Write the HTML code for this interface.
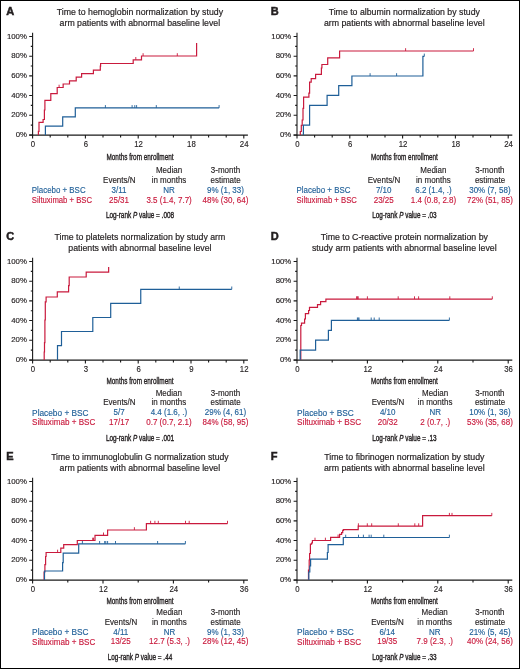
<!DOCTYPE html>
<html><head><meta charset="utf-8"><style>
html,body{margin:0;padding:0;background:#fff;}
body{width:520px;height:669px;overflow:hidden;}
svg{display:block;will-change:transform;font-family:"Liberation Sans",sans-serif;fill:#231f20;}
.c{stroke:#231f20;stroke-width:0.4px;}
.t{stroke-width:0.2px;}
</style></head><body>
<svg width="520" height="669" viewBox="0 0 520 669">
<rect x="0.5" y="0.5" width="519" height="668" fill="#fff" stroke="#000" stroke-width="1"/>
<text x="6.3" y="14.7" stroke="#231f20" stroke-width="0.5" font-size="11" font-weight="bold">A</text>
<text x="139.9" y="14.8" stroke="#231f20" stroke-width="0.2" font-size="9.5" text-anchor="middle" textLength="166.3" lengthAdjust="spacingAndGlyphs">Time to hemoglobin normalization by study</text>
<text x="139.9" y="25.5" stroke="#231f20" stroke-width="0.2" font-size="9.5" text-anchor="middle" textLength="160.6" lengthAdjust="spacingAndGlyphs">arm patients with abnormal baseline level</text>
<g fill="none" stroke="#1a1a1a" stroke-width="1.1"><path d="M32.6 32.7V135.55" /><path d="M29.2 135.05H247.9" stroke-width="1.3" /><path d="M29.2 134.95H32.6M30.8 125.1H32.6M29.2 115.26H32.6M30.8 105.41H32.6M29.2 95.57H32.6M30.8 85.72H32.6M29.2 75.88H32.6M30.8 66.03H32.6M29.2 56.19H32.6M30.8 46.34H32.6M29.2 36.5H32.6M32.6 135.05V138.45M50.2 135.05V137.45M67.8 135.05V137.45M85.4 135.05V138.45M103 135.05V137.45M120.6 135.05V137.45M138.2 135.05V138.45M155.8 135.05V137.45M173.4 135.05V137.45M191 135.05V138.45M208.6 135.05V137.45M226.2 135.05V137.45M243.8 135.05V138.45" /></g>
<text x="26.9" y="136.95" stroke="#231f20" stroke-width="0.15" font-size="7.8" text-anchor="end" textLength="11.27" lengthAdjust="spacingAndGlyphs">0%</text>
<text x="26.9" y="117.26" stroke="#231f20" stroke-width="0.15" font-size="7.8" text-anchor="end" textLength="15.61" lengthAdjust="spacingAndGlyphs">20%</text>
<text x="26.9" y="97.57" stroke="#231f20" stroke-width="0.15" font-size="7.8" text-anchor="end" textLength="15.61" lengthAdjust="spacingAndGlyphs">40%</text>
<text x="26.9" y="77.88" stroke="#231f20" stroke-width="0.15" font-size="7.8" text-anchor="end" textLength="15.61" lengthAdjust="spacingAndGlyphs">60%</text>
<text x="26.9" y="58.19" stroke="#231f20" stroke-width="0.15" font-size="7.8" text-anchor="end" textLength="15.61" lengthAdjust="spacingAndGlyphs">80%</text>
<text x="26.9" y="38.5" stroke="#231f20" stroke-width="0.15" font-size="7.8" text-anchor="end" textLength="19.95" lengthAdjust="spacingAndGlyphs">100%</text>
<text x="33" y="146.6" stroke="#231f20" stroke-width="0.15" font-size="8.8" text-anchor="middle" textLength="4.34" lengthAdjust="spacingAndGlyphs">0</text>
<text x="85.8" y="146.6" stroke="#231f20" stroke-width="0.15" font-size="8.8" text-anchor="middle" textLength="4.34" lengthAdjust="spacingAndGlyphs">6</text>
<text x="138.6" y="146.6" stroke="#231f20" stroke-width="0.15" font-size="8.8" text-anchor="middle" textLength="8.68" lengthAdjust="spacingAndGlyphs">12</text>
<text x="191.4" y="146.6" stroke="#231f20" stroke-width="0.15" font-size="8.8" text-anchor="middle" textLength="8.68" lengthAdjust="spacingAndGlyphs">18</text>
<text x="244.2" y="146.6" stroke="#231f20" stroke-width="0.15" font-size="8.8" text-anchor="middle" textLength="8.68" lengthAdjust="spacingAndGlyphs">24</text>
<text x="140" y="160.3" font-size="9.9" text-anchor="middle" textLength="67" lengthAdjust="spacingAndGlyphs" class="c">Months from enrollment</text>
<path d="M38.4 134.95V131.4H39V122.3H43.1V119.5H44.4V110H44.9V100.3H50.8V93.7H57.2V87.5H63.15V84H69.5V80.8H76.2V77.1H81.6V73.6H93.4V70.2H100.3V66.2H100.6V63.5H133.2V59.8H141.5V56H196.6V42.9H196.6" fill="none" stroke="#c91a3d" stroke-width="1.2" />
<path d="M59.1 87.5V84.7M135.8 59.8V57M143.1 56V53.2M177.3 56V53.2" fill="none" stroke="#c91a3d" stroke-width="0.9" />
<path d="M45.4 134.95V126.1H62.7V116.9H75.3V107.9H219.1" fill="none" stroke="#1f5f98" stroke-width="1.2" />
<path d="M105.4 107.9V105.1M132.1 107.9V105.1M134.8 107.9V105.1M136.6 107.9V105.1M156.3 107.9V105.1M219.1 107.9V105.1" fill="none" stroke="#1f5f98" stroke-width="0.9" />
<text x="169" y="172.9" stroke="#231f20" stroke-width="0.15" font-size="8.8" text-anchor="middle" textLength="26.24" lengthAdjust="spacingAndGlyphs">Median</text>
<text x="225.5" y="172.9" stroke="#231f20" stroke-width="0.15" font-size="8.8" text-anchor="middle" textLength="29.35" lengthAdjust="spacingAndGlyphs">3-month</text>
<text x="119.3" y="182.83" stroke="#231f20" stroke-width="0.15" font-size="8.8" text-anchor="middle" textLength="32.46" lengthAdjust="spacingAndGlyphs">Events/N</text>
<text x="169" y="182.83" stroke="#231f20" stroke-width="0.15" font-size="8.8" text-anchor="middle" textLength="34.68" lengthAdjust="spacingAndGlyphs">in months</text>
<text x="225.6" y="182.83" stroke="#231f20" stroke-width="0.15" font-size="8.8" text-anchor="middle" textLength="30.23" lengthAdjust="spacingAndGlyphs">estimate</text>
<text x="31.8" y="193.26" stroke="#1f5f98" stroke-width="0.15" font-size="8.8" fill="#1f5f98" textLength="53.8" lengthAdjust="spacingAndGlyphs">Placebo + BSC</text>
<text x="119" y="192.76" stroke="#1f5f98" stroke-width="0.15" font-size="8.8" text-anchor="middle" fill="#1f5f98" textLength="14.98" lengthAdjust="spacingAndGlyphs">3/11</text>
<text x="169.1" y="192.76" stroke="#1f5f98" stroke-width="0.15" font-size="8.8" text-anchor="middle" fill="#1f5f98" textLength="11.55" lengthAdjust="spacingAndGlyphs">NR</text>
<text x="225.5" y="192.76" stroke="#1f5f98" stroke-width="0.15" font-size="8.8" text-anchor="middle" fill="#1f5f98" textLength="36.91" lengthAdjust="spacingAndGlyphs">9% (1, 33)</text>
<text x="31.8" y="202.89" stroke="#c91a3d" stroke-width="0.15" font-size="8.8" fill="#c91a3d" textLength="60.3" lengthAdjust="spacingAndGlyphs">Siltuximab + BSC</text>
<text x="119" y="202.69" stroke="#c91a3d" stroke-width="0.15" font-size="8.8" text-anchor="middle" fill="#c91a3d" textLength="20.02" lengthAdjust="spacingAndGlyphs">25/31</text>
<text x="169.1" y="202.69" stroke="#c91a3d" stroke-width="0.15" font-size="8.8" text-anchor="middle" fill="#c91a3d" textLength="45.36" lengthAdjust="spacingAndGlyphs">3.5 (1.4, 7.7)</text>
<text x="225.5" y="202.69" stroke="#c91a3d" stroke-width="0.15" font-size="8.8" text-anchor="middle" fill="#c91a3d" textLength="45.8" lengthAdjust="spacingAndGlyphs">48% (30, 64)</text>
<text x="140" y="217.6" font-size="9.2" text-anchor="middle" class="c" textLength="68.2" lengthAdjust="spacingAndGlyphs">Log-rank <tspan font-style="italic">P</tspan> value = .008</text>
<text x="270.7" y="14.7" stroke="#231f20" stroke-width="0.5" font-size="11" font-weight="bold">B</text>
<text x="404.3" y="14.8" stroke="#231f20" stroke-width="0.2" font-size="9.5" text-anchor="middle" textLength="151.3" lengthAdjust="spacingAndGlyphs">Time to albumin normalization by study</text>
<text x="404.3" y="25.5" stroke="#231f20" stroke-width="0.2" font-size="9.5" text-anchor="middle" textLength="160.6" lengthAdjust="spacingAndGlyphs">arm patients with abnormal baseline level</text>
<g fill="none" stroke="#1a1a1a" stroke-width="1.1"><path d="M297 32.7V135.55" /><path d="M293.6 135.05H512.3" stroke-width="1.3" /><path d="M293.6 134.95H297M295.2 125.1H297M293.6 115.26H297M295.2 105.41H297M293.6 95.57H297M295.2 85.72H297M293.6 75.88H297M295.2 66.03H297M293.6 56.19H297M295.2 46.34H297M293.6 36.5H297M297 135.05V138.45M314.6 135.05V137.45M332.2 135.05V137.45M349.8 135.05V138.45M367.4 135.05V137.45M385 135.05V137.45M402.6 135.05V138.45M420.2 135.05V137.45M437.8 135.05V137.45M455.4 135.05V138.45M473 135.05V137.45M490.6 135.05V137.45M508.2 135.05V138.45" /></g>
<text x="291.3" y="136.95" stroke="#231f20" stroke-width="0.15" font-size="7.8" text-anchor="end" textLength="11.27" lengthAdjust="spacingAndGlyphs">0%</text>
<text x="291.3" y="117.26" stroke="#231f20" stroke-width="0.15" font-size="7.8" text-anchor="end" textLength="15.61" lengthAdjust="spacingAndGlyphs">20%</text>
<text x="291.3" y="97.57" stroke="#231f20" stroke-width="0.15" font-size="7.8" text-anchor="end" textLength="15.61" lengthAdjust="spacingAndGlyphs">40%</text>
<text x="291.3" y="77.88" stroke="#231f20" stroke-width="0.15" font-size="7.8" text-anchor="end" textLength="15.61" lengthAdjust="spacingAndGlyphs">60%</text>
<text x="291.3" y="58.19" stroke="#231f20" stroke-width="0.15" font-size="7.8" text-anchor="end" textLength="15.61" lengthAdjust="spacingAndGlyphs">80%</text>
<text x="291.3" y="38.5" stroke="#231f20" stroke-width="0.15" font-size="7.8" text-anchor="end" textLength="19.95" lengthAdjust="spacingAndGlyphs">100%</text>
<text x="297.4" y="146.6" stroke="#231f20" stroke-width="0.15" font-size="8.8" text-anchor="middle" textLength="4.34" lengthAdjust="spacingAndGlyphs">0</text>
<text x="350.2" y="146.6" stroke="#231f20" stroke-width="0.15" font-size="8.8" text-anchor="middle" textLength="4.34" lengthAdjust="spacingAndGlyphs">6</text>
<text x="403" y="146.6" stroke="#231f20" stroke-width="0.15" font-size="8.8" text-anchor="middle" textLength="8.68" lengthAdjust="spacingAndGlyphs">12</text>
<text x="455.8" y="146.6" stroke="#231f20" stroke-width="0.15" font-size="8.8" text-anchor="middle" textLength="8.68" lengthAdjust="spacingAndGlyphs">18</text>
<text x="508.6" y="146.6" stroke="#231f20" stroke-width="0.15" font-size="8.8" text-anchor="middle" textLength="8.68" lengthAdjust="spacingAndGlyphs">24</text>
<text x="404.4" y="160.3" font-size="9.9" text-anchor="middle" textLength="67" lengthAdjust="spacingAndGlyphs" class="c">Months from enrollment</text>
<path d="M300.3 134.95V131.5H301.3V125.4H302.2V120H303V108.3H303.6V97.1H308.9V93.2H309.6V82.2H311.2V78.6H315.6V74.4H321.4V68H321.9V64.5H327.7V57.8H339.6V51H473.5" fill="none" stroke="#c91a3d" stroke-width="1.2" />
<path d="M405.6 51V48.2M473.5 51V48.2" fill="none" stroke="#c91a3d" stroke-width="0.9" />
<path d="M303.4 134.95V125.2H309.6V105.3H327.1V95.4H338.7V85.7H351.9V76H422.9V56.4H424.3" fill="none" stroke="#1f5f98" stroke-width="1.2" />
<path d="M370.1 76V73.2M396.6 76V73.2M424.3 56.4V53.6" fill="none" stroke="#1f5f98" stroke-width="0.9" />
<text x="433.4" y="172.9" stroke="#231f20" stroke-width="0.15" font-size="8.8" text-anchor="middle" textLength="26.24" lengthAdjust="spacingAndGlyphs">Median</text>
<text x="489.9" y="172.9" stroke="#231f20" stroke-width="0.15" font-size="8.8" text-anchor="middle" textLength="29.35" lengthAdjust="spacingAndGlyphs">3-month</text>
<text x="384" y="182.83" stroke="#231f20" stroke-width="0.15" font-size="8.8" text-anchor="middle" textLength="32.46" lengthAdjust="spacingAndGlyphs">Events/N</text>
<text x="433.4" y="182.83" stroke="#231f20" stroke-width="0.15" font-size="8.8" text-anchor="middle" textLength="34.68" lengthAdjust="spacingAndGlyphs">in months</text>
<text x="490" y="182.83" stroke="#231f20" stroke-width="0.15" font-size="8.8" text-anchor="middle" textLength="30.23" lengthAdjust="spacingAndGlyphs">estimate</text>
<text x="296.6" y="193.26" stroke="#1f5f98" stroke-width="0.15" font-size="8.8" fill="#1f5f98" textLength="53.8" lengthAdjust="spacingAndGlyphs">Placebo + BSC</text>
<text x="383.7" y="192.76" stroke="#1f5f98" stroke-width="0.15" font-size="8.8" text-anchor="middle" fill="#1f5f98" textLength="15.57" lengthAdjust="spacingAndGlyphs">7/10</text>
<text x="433.5" y="192.76" stroke="#1f5f98" stroke-width="0.15" font-size="8.8" text-anchor="middle" fill="#1f5f98" textLength="36.46" lengthAdjust="spacingAndGlyphs">6.2 (1.4, .)</text>
<text x="489.9" y="192.76" stroke="#1f5f98" stroke-width="0.15" font-size="8.8" text-anchor="middle" fill="#1f5f98" textLength="41.36" lengthAdjust="spacingAndGlyphs">30% (7, 58)</text>
<text x="296.6" y="202.89" stroke="#c91a3d" stroke-width="0.15" font-size="8.8" fill="#c91a3d" textLength="60.3" lengthAdjust="spacingAndGlyphs">Siltuximab + BSC</text>
<text x="383.7" y="202.69" stroke="#c91a3d" stroke-width="0.15" font-size="8.8" text-anchor="middle" fill="#c91a3d" textLength="20.02" lengthAdjust="spacingAndGlyphs">23/25</text>
<text x="433.5" y="202.69" stroke="#c91a3d" stroke-width="0.15" font-size="8.8" text-anchor="middle" fill="#c91a3d" textLength="45.36" lengthAdjust="spacingAndGlyphs">1.4 (0.8, 2.8)</text>
<text x="489.9" y="202.69" stroke="#c91a3d" stroke-width="0.15" font-size="8.8" text-anchor="middle" fill="#c91a3d" textLength="45.8" lengthAdjust="spacingAndGlyphs">72% (51, 85)</text>
<text x="404.4" y="217.6" font-size="9.2" text-anchor="middle" class="c" textLength="64.5" lengthAdjust="spacingAndGlyphs">Log-rank <tspan font-style="italic">P</tspan> value = .03</text>
<text x="6.3" y="239.7" stroke="#231f20" stroke-width="0.5" font-size="11" font-weight="bold">C</text>
<text x="139.9" y="239.8" stroke="#231f20" stroke-width="0.2" font-size="9.5" text-anchor="middle" textLength="170.8" lengthAdjust="spacingAndGlyphs">Time to platelets normalization by study arm</text>
<text x="139.9" y="250.5" stroke="#231f20" stroke-width="0.2" font-size="9.5" text-anchor="middle" textLength="143.2" lengthAdjust="spacingAndGlyphs">patients with abnormal baseline level</text>
<g fill="none" stroke="#1a1a1a" stroke-width="1.1"><path d="M32.6 257.7V360.55" /><path d="M29.2 360.05H247.9" stroke-width="1.3" /><path d="M29.2 359.95H32.6M30.8 350.11H32.6M29.2 340.26H32.6M30.8 330.41H32.6M29.2 320.57H32.6M30.8 310.73H32.6M29.2 300.88H32.6M30.8 291.03H32.6M29.2 281.19H32.6M30.8 271.35H32.6M29.2 261.5H32.6M32.6 360.05V363.45M50.2 360.05V362.45M67.8 360.05V362.45M85.4 360.05V363.45M103 360.05V362.45M120.6 360.05V362.45M138.2 360.05V363.45M155.8 360.05V362.45M173.4 360.05V362.45M191 360.05V363.45M208.6 360.05V362.45M226.2 360.05V362.45M243.8 360.05V363.45" /></g>
<text x="26.9" y="361.95" stroke="#231f20" stroke-width="0.15" font-size="7.8" text-anchor="end" textLength="11.27" lengthAdjust="spacingAndGlyphs">0%</text>
<text x="26.9" y="342.26" stroke="#231f20" stroke-width="0.15" font-size="7.8" text-anchor="end" textLength="15.61" lengthAdjust="spacingAndGlyphs">20%</text>
<text x="26.9" y="322.57" stroke="#231f20" stroke-width="0.15" font-size="7.8" text-anchor="end" textLength="15.61" lengthAdjust="spacingAndGlyphs">40%</text>
<text x="26.9" y="302.88" stroke="#231f20" stroke-width="0.15" font-size="7.8" text-anchor="end" textLength="15.61" lengthAdjust="spacingAndGlyphs">60%</text>
<text x="26.9" y="283.19" stroke="#231f20" stroke-width="0.15" font-size="7.8" text-anchor="end" textLength="15.61" lengthAdjust="spacingAndGlyphs">80%</text>
<text x="26.9" y="263.5" stroke="#231f20" stroke-width="0.15" font-size="7.8" text-anchor="end" textLength="19.95" lengthAdjust="spacingAndGlyphs">100%</text>
<text x="33" y="371.6" stroke="#231f20" stroke-width="0.15" font-size="8.8" text-anchor="middle" textLength="4.34" lengthAdjust="spacingAndGlyphs">0</text>
<text x="85.8" y="371.6" stroke="#231f20" stroke-width="0.15" font-size="8.8" text-anchor="middle" textLength="4.34" lengthAdjust="spacingAndGlyphs">3</text>
<text x="138.6" y="371.6" stroke="#231f20" stroke-width="0.15" font-size="8.8" text-anchor="middle" textLength="4.34" lengthAdjust="spacingAndGlyphs">6</text>
<text x="191.4" y="371.6" stroke="#231f20" stroke-width="0.15" font-size="8.8" text-anchor="middle" textLength="4.34" lengthAdjust="spacingAndGlyphs">9</text>
<text x="244.2" y="371.6" stroke="#231f20" stroke-width="0.15" font-size="8.8" text-anchor="middle" textLength="8.68" lengthAdjust="spacingAndGlyphs">12</text>
<text x="140" y="384.3" font-size="9.9" text-anchor="middle" textLength="67" lengthAdjust="spacingAndGlyphs" class="c">Months from enrollment</text>
<path d="M44.2 359.95V352H44.5V342.7H44.9V320H45.3V301.8H46.1V297H57.3V291.8H68.6V285.7H69.2V277H86.2V272.1H108.65V267H108.65" fill="none" stroke="#c91a3d" stroke-width="1.2" />
<path d="M57.5 359.95V345.6H61.5V331.5H92.8V317.5H110.7V303.4H140.75V289.3H231.75" fill="none" stroke="#1f5f98" stroke-width="1.2" />
<path d="M179.25 289.3V286.5M231.75 289.3V286.5" fill="none" stroke="#1f5f98" stroke-width="0.9" />
<text x="168.8" y="395.7" stroke="#231f20" stroke-width="0.15" font-size="8.8" text-anchor="middle" textLength="26.24" lengthAdjust="spacingAndGlyphs">Median</text>
<text x="225.5" y="395.7" stroke="#231f20" stroke-width="0.15" font-size="8.8" text-anchor="middle" textLength="29.35" lengthAdjust="spacingAndGlyphs">3-month</text>
<text x="119.4" y="405.42" stroke="#231f20" stroke-width="0.15" font-size="8.8" text-anchor="middle" textLength="32.46" lengthAdjust="spacingAndGlyphs">Events/N</text>
<text x="168.8" y="405.42" stroke="#231f20" stroke-width="0.15" font-size="8.8" text-anchor="middle" textLength="34.68" lengthAdjust="spacingAndGlyphs">in months</text>
<text x="225.6" y="405.42" stroke="#231f20" stroke-width="0.15" font-size="8.8" text-anchor="middle" textLength="30.23" lengthAdjust="spacingAndGlyphs">estimate</text>
<text x="32.1" y="415.64" stroke="#1f5f98" stroke-width="0.15" font-size="9.152000000000001" fill="#1f5f98" textLength="56.5" lengthAdjust="spacingAndGlyphs">Placebo + BSC</text>
<text x="119.1" y="415.14" stroke="#1f5f98" stroke-width="0.15" font-size="8.8" text-anchor="middle" fill="#1f5f98" textLength="11.12" lengthAdjust="spacingAndGlyphs">5/7</text>
<text x="168.9" y="415.14" stroke="#1f5f98" stroke-width="0.15" font-size="8.8" text-anchor="middle" fill="#1f5f98" textLength="36.46" lengthAdjust="spacingAndGlyphs">4.4 (1.6, .)</text>
<text x="225.5" y="415.14" stroke="#1f5f98" stroke-width="0.15" font-size="8.8" text-anchor="middle" fill="#1f5f98" textLength="41.36" lengthAdjust="spacingAndGlyphs">29% (4, 61)</text>
<text x="32.1" y="425.06" stroke="#c91a3d" stroke-width="0.15" font-size="9.152000000000001" fill="#c91a3d" textLength="63.2" lengthAdjust="spacingAndGlyphs">Siltuximab + BSC</text>
<text x="119.1" y="424.86" stroke="#c91a3d" stroke-width="0.15" font-size="8.8" text-anchor="middle" fill="#c91a3d" textLength="20.02" lengthAdjust="spacingAndGlyphs">17/17</text>
<text x="168.9" y="424.86" stroke="#c91a3d" stroke-width="0.15" font-size="8.8" text-anchor="middle" fill="#c91a3d" textLength="45.36" lengthAdjust="spacingAndGlyphs">0.7 (0.7, 2.1)</text>
<text x="225.5" y="424.86" stroke="#c91a3d" stroke-width="0.15" font-size="8.8" text-anchor="middle" fill="#c91a3d" textLength="45.8" lengthAdjust="spacingAndGlyphs">84% (58, 95)</text>
<text x="140" y="440.6" font-size="9.2" text-anchor="middle" class="c" textLength="68.2" lengthAdjust="spacingAndGlyphs">Log-rank <tspan font-style="italic">P</tspan> value = .001</text>
<text x="270.7" y="239.7" stroke="#231f20" stroke-width="0.5" font-size="11" font-weight="bold">D</text>
<text x="404.3" y="239.8" stroke="#231f20" stroke-width="0.2" font-size="9.5" text-anchor="middle" textLength="167.3" lengthAdjust="spacingAndGlyphs">Time to C-reactive protein normalization by</text>
<text x="404.3" y="250.5" stroke="#231f20" stroke-width="0.2" font-size="9.5" text-anchor="middle" textLength="184.7" lengthAdjust="spacingAndGlyphs">study arm patients with abnormal baseline level</text>
<g fill="none" stroke="#1a1a1a" stroke-width="1.1"><path d="M297 257.7V360.55" /><path d="M293.6 360.05H512.3" stroke-width="1.3" /><path d="M293.6 359.95H297M295.2 350.11H297M293.6 340.26H297M295.2 330.41H297M293.6 320.57H297M295.2 310.73H297M293.6 300.88H297M295.2 291.03H297M293.6 281.19H297M295.2 271.35H297M293.6 261.5H297M297 360.05V363.45M332.2 360.05V362.45M367.4 360.05V363.45M402.6 360.05V362.45M437.8 360.05V363.45M473 360.05V362.45M508.2 360.05V363.45" /></g>
<text x="291.3" y="361.95" stroke="#231f20" stroke-width="0.15" font-size="7.8" text-anchor="end" textLength="11.27" lengthAdjust="spacingAndGlyphs">0%</text>
<text x="291.3" y="342.26" stroke="#231f20" stroke-width="0.15" font-size="7.8" text-anchor="end" textLength="15.61" lengthAdjust="spacingAndGlyphs">20%</text>
<text x="291.3" y="322.57" stroke="#231f20" stroke-width="0.15" font-size="7.8" text-anchor="end" textLength="15.61" lengthAdjust="spacingAndGlyphs">40%</text>
<text x="291.3" y="302.88" stroke="#231f20" stroke-width="0.15" font-size="7.8" text-anchor="end" textLength="15.61" lengthAdjust="spacingAndGlyphs">60%</text>
<text x="291.3" y="283.19" stroke="#231f20" stroke-width="0.15" font-size="7.8" text-anchor="end" textLength="15.61" lengthAdjust="spacingAndGlyphs">80%</text>
<text x="291.3" y="263.5" stroke="#231f20" stroke-width="0.15" font-size="7.8" text-anchor="end" textLength="19.95" lengthAdjust="spacingAndGlyphs">100%</text>
<text x="297.4" y="371.6" stroke="#231f20" stroke-width="0.15" font-size="8.8" text-anchor="middle" textLength="4.34" lengthAdjust="spacingAndGlyphs">0</text>
<text x="367.8" y="371.6" stroke="#231f20" stroke-width="0.15" font-size="8.8" text-anchor="middle" textLength="8.68" lengthAdjust="spacingAndGlyphs">12</text>
<text x="438.2" y="371.6" stroke="#231f20" stroke-width="0.15" font-size="8.8" text-anchor="middle" textLength="8.68" lengthAdjust="spacingAndGlyphs">24</text>
<text x="508.6" y="371.6" stroke="#231f20" stroke-width="0.15" font-size="8.8" text-anchor="middle" textLength="8.68" lengthAdjust="spacingAndGlyphs">36</text>
<text x="404.4" y="384.3" font-size="9.9" text-anchor="middle" textLength="67" lengthAdjust="spacingAndGlyphs" class="c">Months from enrollment</text>
<path d="M300.8 359.95V325.5H301.5V323.2H304.6V319H305.4V313.6H308.6V310.5H309.5V307.4H317.5V304.7H320.6V301.7H325.9V299.1H492.3" fill="none" stroke="#c91a3d" stroke-width="1.2" />
<path d="M356.6 299.1V296.3M357.4 299.1V296.3M358.2 299.1V296.3M367.4 299.1V296.3M398.2 299.1V296.3M414.5 299.1V296.3M418.6 299.1V296.3M449.8 299.1V296.3M492.3 299.1V296.3" fill="none" stroke="#c91a3d" stroke-width="0.9" />
<path d="M300.2 359.95V350.1H315.6V340.1H328.4V330.3H331.4V320.3H449.4" fill="none" stroke="#1f5f98" stroke-width="1.2" />
<path d="M357.4 320.3V317.5M358.2 320.3V317.5M359 320.3V317.5M371.2 320.3V317.5M374.2 320.3V317.5M379.2 320.3V317.5M449.4 320.3V317.5" fill="none" stroke="#1f5f98" stroke-width="0.9" />
<text x="435.1" y="395.7" stroke="#231f20" stroke-width="0.15" font-size="8.8" text-anchor="middle" textLength="26.24" lengthAdjust="spacingAndGlyphs">Median</text>
<text x="489.9" y="395.7" stroke="#231f20" stroke-width="0.15" font-size="8.8" text-anchor="middle" textLength="29.35" lengthAdjust="spacingAndGlyphs">3-month</text>
<text x="388" y="405.42" stroke="#231f20" stroke-width="0.15" font-size="8.8" text-anchor="middle" textLength="32.46" lengthAdjust="spacingAndGlyphs">Events/N</text>
<text x="435.1" y="405.42" stroke="#231f20" stroke-width="0.15" font-size="8.8" text-anchor="middle" textLength="34.68" lengthAdjust="spacingAndGlyphs">in months</text>
<text x="490" y="405.42" stroke="#231f20" stroke-width="0.15" font-size="8.8" text-anchor="middle" textLength="30.23" lengthAdjust="spacingAndGlyphs">estimate</text>
<text x="297.1" y="415.64" stroke="#1f5f98" stroke-width="0.15" font-size="9.152000000000001" fill="#1f5f98" textLength="56.7" lengthAdjust="spacingAndGlyphs">Placebo + BSC</text>
<text x="387.7" y="415.14" stroke="#1f5f98" stroke-width="0.15" font-size="8.8" text-anchor="middle" fill="#1f5f98" textLength="15.57" lengthAdjust="spacingAndGlyphs">4/10</text>
<text x="435.2" y="415.14" stroke="#1f5f98" stroke-width="0.15" font-size="8.8" text-anchor="middle" fill="#1f5f98" textLength="11.55" lengthAdjust="spacingAndGlyphs">NR</text>
<text x="489.9" y="415.14" stroke="#1f5f98" stroke-width="0.15" font-size="8.8" text-anchor="middle" fill="#1f5f98" textLength="41.36" lengthAdjust="spacingAndGlyphs">10% (1, 36)</text>
<text x="297.1" y="425.06" stroke="#c91a3d" stroke-width="0.15" font-size="9.152000000000001" fill="#c91a3d" textLength="64" lengthAdjust="spacingAndGlyphs">Siltuximab + BSC</text>
<text x="387.7" y="424.86" stroke="#c91a3d" stroke-width="0.15" font-size="8.8" text-anchor="middle" fill="#c91a3d" textLength="20.02" lengthAdjust="spacingAndGlyphs">20/32</text>
<text x="435.2" y="424.86" stroke="#c91a3d" stroke-width="0.15" font-size="8.8" text-anchor="middle" fill="#c91a3d" textLength="29.79" lengthAdjust="spacingAndGlyphs">2 (0.7, .)</text>
<text x="489.9" y="424.86" stroke="#c91a3d" stroke-width="0.15" font-size="8.8" text-anchor="middle" fill="#c91a3d" textLength="45.8" lengthAdjust="spacingAndGlyphs">53% (35, 68)</text>
<text x="404.4" y="440.6" font-size="9.2" text-anchor="middle" class="c" textLength="64.5" lengthAdjust="spacingAndGlyphs">Log-rank <tspan font-style="italic">P</tspan> value = .13</text>
<text x="6.3" y="459.7" stroke="#231f20" stroke-width="0.5" font-size="11" font-weight="bold">E</text>
<text x="139.9" y="459.8" stroke="#231f20" stroke-width="0.2" font-size="9.5" text-anchor="middle" textLength="177.5" lengthAdjust="spacingAndGlyphs">Time to immunoglobulin G normalization study</text>
<text x="139.9" y="470.5" stroke="#231f20" stroke-width="0.2" font-size="9.5" text-anchor="middle" textLength="160.6" lengthAdjust="spacingAndGlyphs">arm patients with abnormal baseline level</text>
<g fill="none" stroke="#1a1a1a" stroke-width="1.1"><path d="M32.6 477.7V580.55" /><path d="M29.2 580.05H247.9" stroke-width="1.3" /><path d="M29.2 579.95H32.6M30.8 570.11H32.6M29.2 560.26H32.6M30.8 550.42H32.6M29.2 540.57H32.6M30.8 530.73H32.6M29.2 520.88H32.6M30.8 511.04H32.6M29.2 501.19H32.6M30.8 491.35H32.6M29.2 481.5H32.6M32.6 580.05V583.45M67.8 580.05V582.45M103 580.05V583.45M138.2 580.05V582.45M173.4 580.05V583.45M208.6 580.05V582.45M243.8 580.05V583.45" /></g>
<text x="26.9" y="581.95" stroke="#231f20" stroke-width="0.15" font-size="7.8" text-anchor="end" textLength="11.27" lengthAdjust="spacingAndGlyphs">0%</text>
<text x="26.9" y="562.26" stroke="#231f20" stroke-width="0.15" font-size="7.8" text-anchor="end" textLength="15.61" lengthAdjust="spacingAndGlyphs">20%</text>
<text x="26.9" y="542.57" stroke="#231f20" stroke-width="0.15" font-size="7.8" text-anchor="end" textLength="15.61" lengthAdjust="spacingAndGlyphs">40%</text>
<text x="26.9" y="522.88" stroke="#231f20" stroke-width="0.15" font-size="7.8" text-anchor="end" textLength="15.61" lengthAdjust="spacingAndGlyphs">60%</text>
<text x="26.9" y="503.19" stroke="#231f20" stroke-width="0.15" font-size="7.8" text-anchor="end" textLength="15.61" lengthAdjust="spacingAndGlyphs">80%</text>
<text x="26.9" y="483.5" stroke="#231f20" stroke-width="0.15" font-size="7.8" text-anchor="end" textLength="19.95" lengthAdjust="spacingAndGlyphs">100%</text>
<text x="33" y="591.6" stroke="#231f20" stroke-width="0.15" font-size="8.8" text-anchor="middle" textLength="4.34" lengthAdjust="spacingAndGlyphs">0</text>
<text x="103.4" y="591.6" stroke="#231f20" stroke-width="0.15" font-size="8.8" text-anchor="middle" textLength="8.68" lengthAdjust="spacingAndGlyphs">12</text>
<text x="173.8" y="591.6" stroke="#231f20" stroke-width="0.15" font-size="8.8" text-anchor="middle" textLength="8.68" lengthAdjust="spacingAndGlyphs">24</text>
<text x="244.2" y="591.6" stroke="#231f20" stroke-width="0.15" font-size="8.8" text-anchor="middle" textLength="8.68" lengthAdjust="spacingAndGlyphs">36</text>
<text x="140" y="603.9" font-size="9.9" text-anchor="middle" textLength="67" lengthAdjust="spacingAndGlyphs" class="c">Months from enrollment</text>
<path d="M44.1 579.95V572H44.9V564.6H45.6V556.5H46.1V552.5H60.8V548.2H63.7V544.7H77.3V540.5H95V535.3H107.6V530H146.4V523.6H227.5" fill="none" stroke="#c91a3d" stroke-width="1.2" />
<path d="M57.6 552.5V549.7M92.7 540.5V537.7M93.5 540.5V537.7M103.5 535.3V532.5M134.4 530V527.2M150.6 523.6V520.8M154.9 523.6V520.8M158.3 523.6V520.8M185.5 523.6V520.8M189.2 523.6V520.8M227.5 523.6V520.8" fill="none" stroke="#c91a3d" stroke-width="0.9" />
<path d="M44.5 579.95V571H62.6V562.7H63.2V553.1H78.7V543.8H185.4" fill="none" stroke="#1f5f98" stroke-width="1.2" />
<path d="M82.4 543.8V541M99.6 543.8V541M104.7 543.8V541M105.8 543.8V541M107.6 543.8V541M115.5 543.8V541M157.6 543.8V541M185.4 543.8V541" fill="none" stroke="#1f5f98" stroke-width="0.9" />
<text x="169.4" y="614.8" stroke="#231f20" stroke-width="0.15" font-size="8.8" text-anchor="middle" textLength="26.24" lengthAdjust="spacingAndGlyphs">Median</text>
<text x="225.5" y="614.8" stroke="#231f20" stroke-width="0.15" font-size="8.8" text-anchor="middle" textLength="29.35" lengthAdjust="spacingAndGlyphs">3-month</text>
<text x="121" y="624.67" stroke="#231f20" stroke-width="0.15" font-size="8.8" text-anchor="middle" textLength="32.46" lengthAdjust="spacingAndGlyphs">Events/N</text>
<text x="169.4" y="624.67" stroke="#231f20" stroke-width="0.15" font-size="8.8" text-anchor="middle" textLength="34.68" lengthAdjust="spacingAndGlyphs">in months</text>
<text x="225.6" y="624.67" stroke="#231f20" stroke-width="0.15" font-size="8.8" text-anchor="middle" textLength="30.23" lengthAdjust="spacingAndGlyphs">estimate</text>
<text x="32.1" y="635.04" stroke="#1f5f98" stroke-width="0.15" font-size="9.152000000000001" fill="#1f5f98" textLength="56.5" lengthAdjust="spacingAndGlyphs">Placebo + BSC</text>
<text x="120.7" y="634.54" stroke="#1f5f98" stroke-width="0.15" font-size="8.8" text-anchor="middle" fill="#1f5f98" textLength="14.98" lengthAdjust="spacingAndGlyphs">4/11</text>
<text x="169.5" y="634.54" stroke="#1f5f98" stroke-width="0.15" font-size="8.8" text-anchor="middle" fill="#1f5f98" textLength="11.55" lengthAdjust="spacingAndGlyphs">NR</text>
<text x="225.5" y="634.54" stroke="#1f5f98" stroke-width="0.15" font-size="8.8" text-anchor="middle" fill="#1f5f98" textLength="36.91" lengthAdjust="spacingAndGlyphs">9% (1, 33)</text>
<text x="32.1" y="644.61" stroke="#c91a3d" stroke-width="0.15" font-size="9.152000000000001" fill="#c91a3d" textLength="63.2" lengthAdjust="spacingAndGlyphs">Siltuximab + BSC</text>
<text x="120.7" y="644.41" stroke="#c91a3d" stroke-width="0.15" font-size="8.8" text-anchor="middle" fill="#c91a3d" textLength="20.02" lengthAdjust="spacingAndGlyphs">13/25</text>
<text x="169.5" y="644.41" stroke="#c91a3d" stroke-width="0.15" font-size="8.8" text-anchor="middle" fill="#c91a3d" textLength="40.91" lengthAdjust="spacingAndGlyphs">12.7 (5.3, .)</text>
<text x="225.5" y="644.41" stroke="#c91a3d" stroke-width="0.15" font-size="8.8" text-anchor="middle" fill="#c91a3d" textLength="45.8" lengthAdjust="spacingAndGlyphs">28% (12, 45)</text>
<text x="140" y="659.8" font-size="9.2" text-anchor="middle" class="c" textLength="64.5" lengthAdjust="spacingAndGlyphs">Log-rank <tspan font-style="italic">P</tspan> value = .44</text>
<text x="270.7" y="459.7" stroke="#231f20" stroke-width="0.5" font-size="11" font-weight="bold">F</text>
<text x="404.3" y="459.8" stroke="#231f20" stroke-width="0.2" font-size="9.5" text-anchor="middle" textLength="160.3" lengthAdjust="spacingAndGlyphs">Time to fibrinogen normalization by study</text>
<text x="404.3" y="470.5" stroke="#231f20" stroke-width="0.2" font-size="9.5" text-anchor="middle" textLength="160.6" lengthAdjust="spacingAndGlyphs">arm patients with abnormal baseline level</text>
<g fill="none" stroke="#1a1a1a" stroke-width="1.1"><path d="M297 477.7V580.55" /><path d="M293.6 580.05H512.3" stroke-width="1.3" /><path d="M293.6 579.95H297M295.2 570.11H297M293.6 560.26H297M295.2 550.42H297M293.6 540.57H297M295.2 530.73H297M293.6 520.88H297M295.2 511.04H297M293.6 501.19H297M295.2 491.35H297M293.6 481.5H297M297 580.05V583.45M332.2 580.05V582.45M367.4 580.05V583.45M402.6 580.05V582.45M437.8 580.05V583.45M473 580.05V582.45M508.2 580.05V583.45" /></g>
<text x="291.3" y="581.95" stroke="#231f20" stroke-width="0.15" font-size="7.8" text-anchor="end" textLength="11.27" lengthAdjust="spacingAndGlyphs">0%</text>
<text x="291.3" y="562.26" stroke="#231f20" stroke-width="0.15" font-size="7.8" text-anchor="end" textLength="15.61" lengthAdjust="spacingAndGlyphs">20%</text>
<text x="291.3" y="542.57" stroke="#231f20" stroke-width="0.15" font-size="7.8" text-anchor="end" textLength="15.61" lengthAdjust="spacingAndGlyphs">40%</text>
<text x="291.3" y="522.88" stroke="#231f20" stroke-width="0.15" font-size="7.8" text-anchor="end" textLength="15.61" lengthAdjust="spacingAndGlyphs">60%</text>
<text x="291.3" y="503.19" stroke="#231f20" stroke-width="0.15" font-size="7.8" text-anchor="end" textLength="15.61" lengthAdjust="spacingAndGlyphs">80%</text>
<text x="291.3" y="483.5" stroke="#231f20" stroke-width="0.15" font-size="7.8" text-anchor="end" textLength="19.95" lengthAdjust="spacingAndGlyphs">100%</text>
<text x="297.4" y="591.6" stroke="#231f20" stroke-width="0.15" font-size="8.8" text-anchor="middle" textLength="4.34" lengthAdjust="spacingAndGlyphs">0</text>
<text x="367.8" y="591.6" stroke="#231f20" stroke-width="0.15" font-size="8.8" text-anchor="middle" textLength="8.68" lengthAdjust="spacingAndGlyphs">12</text>
<text x="438.2" y="591.6" stroke="#231f20" stroke-width="0.15" font-size="8.8" text-anchor="middle" textLength="8.68" lengthAdjust="spacingAndGlyphs">24</text>
<text x="508.6" y="591.6" stroke="#231f20" stroke-width="0.15" font-size="8.8" text-anchor="middle" textLength="8.68" lengthAdjust="spacingAndGlyphs">36</text>
<text x="404.4" y="603.9" font-size="9.9" text-anchor="middle" textLength="67" lengthAdjust="spacingAndGlyphs" class="c">Months from enrollment</text>
<path d="M308.5 579.95V570H309.2V560H309.6V553.5H310.4V544.2H311.6V543H312.4V540.5H330.6V537.3H339.6V534.4H341.6V532.7H342.7V530.4H343.5V529.6H358.2V526.1H422.6V515.7H491.8" fill="none" stroke="#c91a3d" stroke-width="1.2" />
<path d="M315 540.5V537.7M325.4 540.5V537.7M338.1 537.3V534.5M358.4 526.1V523.3M367.3 526.1V523.3M371.7 526.1V523.3M398.3 526.1V523.3M414.8 526.1V523.3M418.7 526.1V523.3M449.4 515.7V512.9M452 515.7V512.9M491.8 515.7V512.9" fill="none" stroke="#c91a3d" stroke-width="0.9" />
<path d="M308.8 579.95V572H309.8V566H310.6V559.1H327.4V552.5H328.1V544.6H343.3V537.5H449.4" fill="none" stroke="#1f5f98" stroke-width="1.2" />
<path d="M345.7 537.5V534.7M358.5 537.5V534.7M363.4 537.5V534.7M369.1 537.5V534.7M371.2 537.5V534.7M383.8 537.5V534.7M449.4 537.5V534.7" fill="none" stroke="#1f5f98" stroke-width="0.9" />
<text x="434.7" y="614.8" stroke="#231f20" stroke-width="0.15" font-size="8.8" text-anchor="middle" textLength="26.24" lengthAdjust="spacingAndGlyphs">Median</text>
<text x="489.9" y="614.8" stroke="#231f20" stroke-width="0.15" font-size="8.8" text-anchor="middle" textLength="29.35" lengthAdjust="spacingAndGlyphs">3-month</text>
<text x="387.5" y="624.67" stroke="#231f20" stroke-width="0.15" font-size="8.8" text-anchor="middle" textLength="32.46" lengthAdjust="spacingAndGlyphs">Events/N</text>
<text x="434.7" y="624.67" stroke="#231f20" stroke-width="0.15" font-size="8.8" text-anchor="middle" textLength="34.68" lengthAdjust="spacingAndGlyphs">in months</text>
<text x="490" y="624.67" stroke="#231f20" stroke-width="0.15" font-size="8.8" text-anchor="middle" textLength="30.23" lengthAdjust="spacingAndGlyphs">estimate</text>
<text x="297.1" y="635.04" stroke="#1f5f98" stroke-width="0.15" font-size="9.152000000000001" fill="#1f5f98" textLength="56.7" lengthAdjust="spacingAndGlyphs">Placebo + BSC</text>
<text x="387.2" y="634.54" stroke="#1f5f98" stroke-width="0.15" font-size="8.8" text-anchor="middle" fill="#1f5f98" textLength="15.57" lengthAdjust="spacingAndGlyphs">6/14</text>
<text x="434.8" y="634.54" stroke="#1f5f98" stroke-width="0.15" font-size="8.8" text-anchor="middle" fill="#1f5f98" textLength="11.55" lengthAdjust="spacingAndGlyphs">NR</text>
<text x="489.9" y="634.54" stroke="#1f5f98" stroke-width="0.15" font-size="8.8" text-anchor="middle" fill="#1f5f98" textLength="41.36" lengthAdjust="spacingAndGlyphs">21% (5, 45)</text>
<text x="297.1" y="644.61" stroke="#c91a3d" stroke-width="0.15" font-size="9.152000000000001" fill="#c91a3d" textLength="64" lengthAdjust="spacingAndGlyphs">Siltuximab + BSC</text>
<text x="387.2" y="644.41" stroke="#c91a3d" stroke-width="0.15" font-size="8.8" text-anchor="middle" fill="#c91a3d" textLength="20.02" lengthAdjust="spacingAndGlyphs">19/35</text>
<text x="434.8" y="644.41" stroke="#c91a3d" stroke-width="0.15" font-size="8.8" text-anchor="middle" fill="#c91a3d" textLength="36.46" lengthAdjust="spacingAndGlyphs">7.9 (2.3, .)</text>
<text x="489.9" y="644.41" stroke="#c91a3d" stroke-width="0.15" font-size="8.8" text-anchor="middle" fill="#c91a3d" textLength="45.8" lengthAdjust="spacingAndGlyphs">40% (24, 56)</text>
<text x="404.4" y="659.8" font-size="9.2" text-anchor="middle" class="c" textLength="64.5" lengthAdjust="spacingAndGlyphs">Log-rank <tspan font-style="italic">P</tspan> value = .33</text>
</svg>
</body></html>
